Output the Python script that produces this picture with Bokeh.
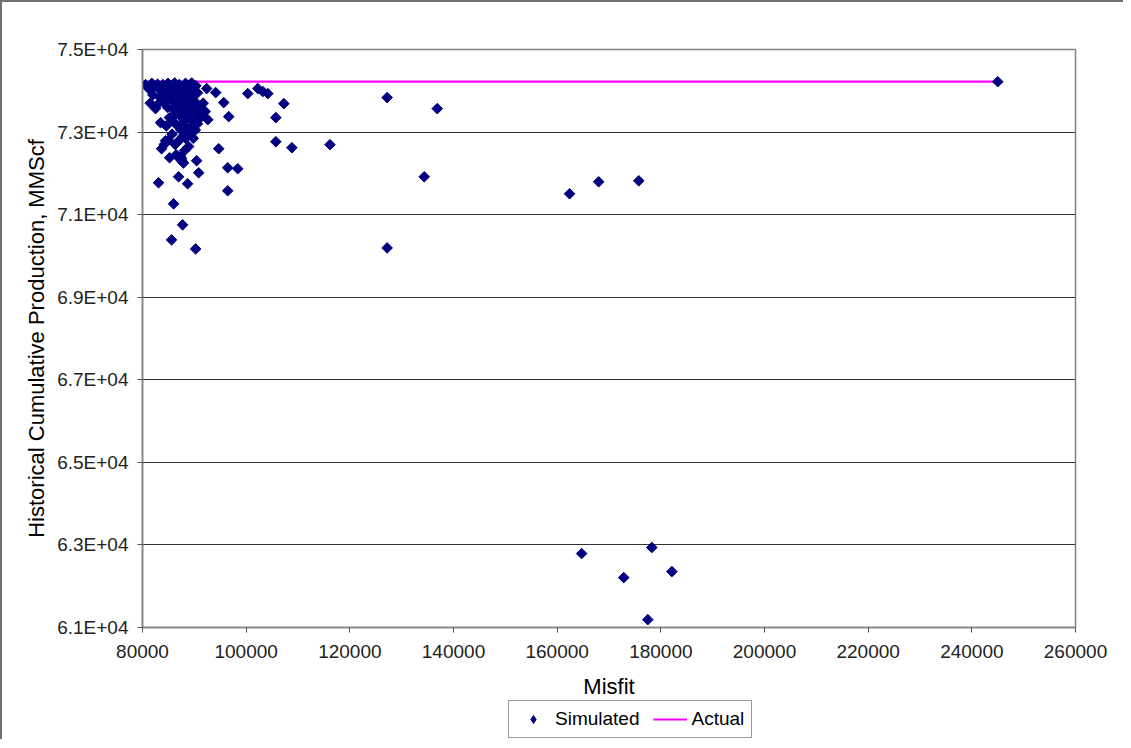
import math
from bokeh.plotting import figure
from bokeh.layouts import column
from bokeh.models import FixedTicker, Legend, LegendItem, Range1d
from bokeh.embed import file_html
from bokeh.resources import INLINE

# Simulated runs: misfit vs historical cumulative production (MMScf)
sim_misfit = [
    # dense top band
    80600, 81200, 81800, 82300, 82900, 83400, 83900, 84400, 84900, 85300,
    85800, 86200, 86700, 87100, 87500, 87900, 88300, 88700, 89100, 89500,
    89900, 90300, 85600, 86900, 88100, 89300, 84100, 82000, 83300, 90600,
    # middle of cluster
    81500, 82800, 84000, 84800, 85400, 85900, 86300, 86600, 87000, 87300,
    87600, 87900, 88200, 88500, 88800, 89100, 89400, 89700, 90000, 90400,
    90800, 91200, 91700, 92100, 92600, 86000, 86800, 87400, 88000, 88600,
    89000, 89600, 90200, 85200, 84600, 88300, 87100, 89800, 90600, 85700,
    86300, 85000, 86500, 87200, 87600, 87400, 88100, 88900, 84200, 87800,
    # sparse points
    92379, 94120, 100309, 102243, 103210, 104177, 107272, 105725, 105725, 108820,
    116170, 95667, 96634, 94700, 96441, 98375, 96441, 90832, 90445, 88704,
    83095, 85996, 87737, 85609, 90251, 86963, 85222, 87544, 87900, 83675,
    84449, 83482, 82514, 81547,
    # far points
    127195, 136867, 134350, 127195, 162398, 168007, 175745,
    164720, 172843, 178259, 182128, 177485, 245000,
]
sim_production = [
    74150, 74050, 74180, 74100, 74160, 74020, 74150, 74080, 74180, 74000,
    74120, 74190, 74050, 74150, 73980, 74100, 74180, 74030, 74140, 74190,
    74060, 74120, 73920, 73890, 73930, 73900, 73880, 73900, 73850, 73950,
    73700, 73650, 73750, 73600, 73800, 73550, 73700, 73450, 73780, 73600,
    73350, 73700, 73500, 73800, 73400, 73650, 73300, 73550, 73750, 73450,
    73600, 73350, 73700, 73500, 73300, 73250, 73150, 73050, 73250, 73100,
    72950, 73150, 73050, 73350, 73150, 72850, 72800, 72850, 73200, 72950,
    72700, 72800, 72450, 72350, 72300, 72400, 72550, 72650, 72700, 72900,
    74053, 73956, 73932, 74053, 73981, 73932, 73689, 73350, 72767, 72621,
    72694, 73714, 73374, 72597, 72136, 72112, 71578, 72015, 72306, 71748,
    71772, 71262, 70753, 70389, 70170, 71918, 72379, 72355, 72250, 72597,
    72791, 73228, 73568, 74078,
    73835, 73568, 71917, 70194, 71505, 71796, 71820,
    62791, 62209, 62937, 62354, 61190, 74220,
]

actual_misfit = [80000, 245000]
actual_production = [74220, 74220]

y_ticks = [61000, 63000, 65000, 67000, 69000, 71000, 73000, 75000]
y_tick_labels = ["6.1E+04", "6.3E+04", "6.5E+04", "6.7E+04", "6.9E+04", "7.1E+04", "7.3E+04", "7.5E+04"]
x_ticks = [80000, 100000, 120000, 140000, 160000, 180000, 200000, 220000, 240000, 260000]

FONT = "Liberation Sans"
NAVY = "#000080"
MAGENTA = "#FF00FF"

p = figure(width=1123, height=699, output_backend="svg", toolbar_location=None,
           x_range=Range1d(80000, 260000), y_range=Range1d(61000, 75000),
           min_border_left=140, min_border_right=50, min_border_top=47, min_border_bottom=74)
p.styles = {"border-left": "2px solid #6f6f6f", "border-top": "2px solid #6f6f6f"}
p.background_fill_color = "white"
p.border_fill_color = "white"
p.outline_line_color = "#808080"
p.outline_line_width = 1.5

p.xgrid.grid_line_color = None
p.ygrid.grid_line_color = "#333333"
p.ygrid.grid_line_width = 1.2
p.ygrid.ticker = FixedTicker(ticks=y_ticks)

p.yaxis.ticker = FixedTicker(ticks=y_ticks)
p.yaxis.major_label_overrides = {t: l for t, l in zip(y_ticks, y_tick_labels)}
p.xaxis.ticker = FixedTicker(ticks=x_ticks)
p.xaxis.major_label_overrides = {t: str(t) for t in x_ticks}

for ax in (p.xaxis, p.yaxis):
    ax.axis_line_color = "#808080"
    ax.axis_line_width = 1.5
    ax.major_tick_line_color = "#555555"
    ax.major_tick_in = 0
    ax.major_tick_out = 5
    ax.minor_tick_line_color = None
    ax.major_label_text_font = FONT
    ax.major_label_text_font_size = "19px"
    ax.major_label_text_color = "#222222"
    ax.axis_label_text_font = FONT
    ax.axis_label_text_font_size = "22px"
    ax.axis_label_text_font_style = "normal"
    ax.axis_label_text_color = "black"

p.xaxis.axis_label = "Misfit"
p.yaxis.axis_label = "Historical Cumulative Production, MMScf"
p.xaxis.major_label_standoff = 12
p.xaxis.axis_label_standoff = 13
p.yaxis.major_label_standoff = 9
p.yaxis.axis_label_standoff = 5

p.line(actual_misfit, actual_production, line_color=MAGENTA, line_width=2.2)
p.scatter(sim_misfit, sim_production, marker="square", size=7.5, angle=math.pi / 4,
          fill_color=NAVY, line_color=NAVY)

# legend strip below the chart (same series, ranges chosen so only the legend shows)
lg = figure(width=1123, height=40, output_backend="svg", toolbar_location=None,
            x_range=Range1d(0, 1), y_range=Range1d(0, 1),
            min_border_left=140, min_border_right=50, min_border_top=0, min_border_bottom=0)
lg.styles = {"border-left": "2px solid #6f6f6f"}
lg.axis.visible = False
lg.grid.visible = False
lg.outline_line_color = None
lg_sim = lg.scatter(sim_misfit, sim_production, marker="diamond", size=11,
                    fill_color=NAVY, line_color=NAVY)
lg_act = lg.line(actual_misfit, actual_production, line_color=MAGENTA, line_width=2.2)
legend = Legend(items=[LegendItem(label="Simulated", renderers=[lg_sim]),
                       LegendItem(label="Actual", renderers=[lg_act])],
                orientation="horizontal", location=(366, 1),
                label_text_font=FONT, label_text_font_size="19px",
                label_text_color="black",
                border_line_color="#333333", border_line_width=1.3,
                glyph_width=34, glyph_height=20, label_standoff=5, spacing=13,
                padding=7, margin=0, background_fill_alpha=1)
lg.add_layout(legend, "center")

layout = column(p, lg, spacing=0)
open("out.html", "w").write(file_html(layout, INLINE))
